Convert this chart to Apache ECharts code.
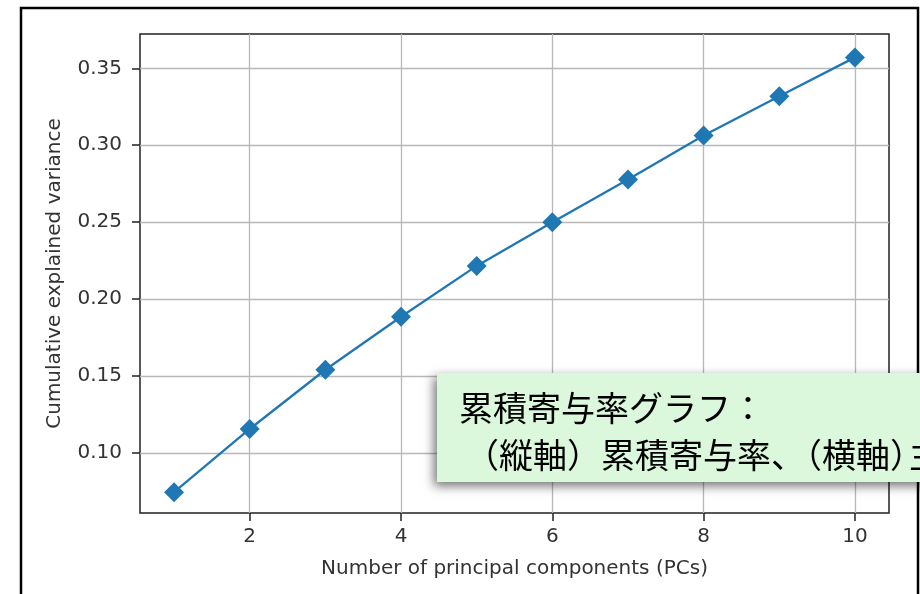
<!DOCTYPE html>
<html>
<head>
<meta charset="utf-8">
<script src="https://cdn.jsdelivr.net/npm/echarts@6/dist/echarts.min.js"></script>
<style>
  html, body { margin: 0; padding: 0; background: #ffffff; }
  #chart { width: 920px; height: 594px; }
</style>
</head>
<body>
<div id="chart"></div>
<script>
// Number of principal components and the cumulative explained variance ratio
const pcs = [1, 2, 3, 4, 5, 6, 7, 8, 9, 10];
const cumVar = [0.0745, 0.1156, 0.1541, 0.1885, 0.2216, 0.2500, 0.2777, 0.3063, 0.3318, 0.3571];

// Tick positions on each axis
const xTicks = [2, 4, 6, 8, 10];
const yTicks = [0.10, 0.15, 0.20, 0.25, 0.30, 0.35];

// Axis titles and the note box text
const xTitle = 'Number of principal components (PCs)';
const yTitle = 'Cumulative explained variance';
const noteLine1 = '累積寄与率グラフ：';
const noteLine2a = '（縦軸）累積寄与率、';
const noteLine2b = '（横軸）';
const noteLine2c = '主成分数';

const points = pcs.map((n, i) => [n, cumVar[i]]);

const tickFont = 'DejaVu Sans';
const noteFont = '"Noto Sans CJK JP"';

const chart = echarts.init(document.getElementById('chart'), null, { renderer: 'canvas' });

chart.setOption({
  animation: false,
  backgroundColor: '#ffffff',
  grid: {
    left: 140, top: 34, right: 31, bottom: 81,
    show: true,
    borderColor: '#222222',
    borderWidth: 1.5,
    backgroundColor: 'transparent'
  },
  xAxis: {
    type: 'value',
    min: 0.55,
    max: 10.45,
    name: xTitle,
    nameLocation: 'middle',
    nameGap: 46,
    nameTextStyle: { fontFamily: tickFont, fontSize: 20, color: '#333333' },
    axisLine: { show: false },
    axisTick: { show: true, length: 8, lineStyle: { color: '#222222', width: 1.5 }, customValues: xTicks },
    axisLabel: { customValues: xTicks, margin: 14, fontFamily: tickFont, fontSize: 20, color: '#333333' },
    splitLine: { show: true, lineStyle: { color: '#b8b8b8', width: 1.3 } }
  },
  yAxis: {
    type: 'value',
    min: 0.061,
    max: 0.3723,
    name: yTitle,
    nameLocation: 'middle',
    nameGap: 75,
    nameTextStyle: { fontFamily: tickFont, fontSize: 20, color: '#333333' },
    axisLine: { show: false },
    axisTick: { show: true, length: 8, lineStyle: { color: '#222222', width: 1.5 }, customValues: yTicks },
    axisLabel: {
      customValues: yTicks, margin: 18, fontFamily: tickFont, fontSize: 20, color: '#333333',
      formatter: v => v.toFixed(2)
    },
    splitLine: { show: true, lineStyle: { color: '#b8b8b8', width: 1.3 } }
  },
  series: [{
    type: 'line',
    data: points,
    symbol: 'diamond',
    symbolSize: 20,
    showSymbol: true,
    lineStyle: { color: '#1f77b4', width: 2.3 },
    itemStyle: { color: '#1f77b4' },
    z: 3
  }],
  graphic: [
    // outer frame around the figure
    {
      type: 'rect',
      shape: { x: 21, y: 8, width: 897, height: 600 },
      style: { fill: 'none', stroke: '#000000', lineWidth: 2.5 },
      z: 10
    },
    // note box with drop shadow
    {
      type: 'rect',
      shape: { x: 437, y: 373, width: 500, height: 109 },
      style: {
        fill: '#dcf8dc',
        shadowBlur: 10,
        shadowOffsetX: -3,
        shadowOffsetY: 4,
        shadowColor: 'rgba(0,0,0,0.55)'
      },
      z: 20
    },
    {
      type: 'text',
      x: 459, y: 408,
      style: { text: noteLine1, font: '34px ' + noteFont, fill: '#000000', textVerticalAlign: 'middle' },
      z: 21
    },
    {
      type: 'text',
      x: 465, y: 455,
      style: { text: noteLine2a, font: '34px ' + noteFont, fill: '#000000', textVerticalAlign: 'middle' },
      z: 21
    },
    {
      type: 'text',
      x: 788, y: 455,
      style: { text: noteLine2b, font: '34px ' + noteFont, fill: '#000000', textVerticalAlign: 'middle' },
      z: 21
    },
    {
      type: 'text',
      x: 909, y: 455,
      style: { text: noteLine2c, font: '34px ' + noteFont, fill: '#000000', textVerticalAlign: 'middle' },
      z: 21
    }
  ]
});
</script>
</body>
</html>
